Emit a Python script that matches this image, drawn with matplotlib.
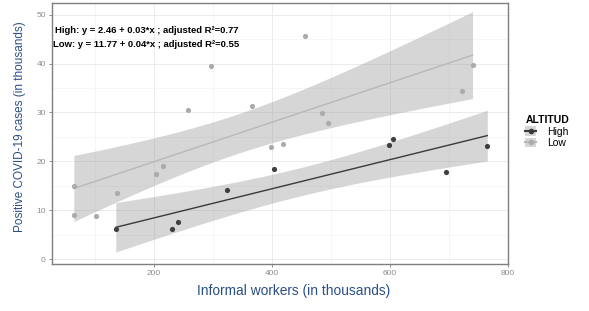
import matplotlib; matplotlib.use('Agg')
import numpy as np
import matplotlib.pyplot as plt
from matplotlib.lines import Line2D
from matplotlib.patches import Patch

# informal workers (thousands) vs positive cases (thousands), by altitude
high_x = [136, 231, 242, 325, 403, 599, 605, 695, 765]
high_y = [6.1, 6.1, 7.5, 14.1, 18.5, 23.4, 24.6, 17.9, 23.2]
low_x = [65, 65, 102, 138, 204, 216, 258, 297, 366, 398, 419, 457, 485, 495, 722, 740]
low_y = [15.0, 9.1, 8.9, 13.6, 17.5, 19.1, 30.6, 39.5, 31.3, 22.9, 23.5, 45.6, 29.9, 27.8, 34.4, 39.8]

labels = ['High', 'Low']
eq_text = ['High: y = 2.46 + 0.03*x ; adjusted R\u00b2=0.77',
           'Low: y = 11.77 + 0.04*x ; adjusted R\u00b2=0.55']
t_crit = {7: 2.365, 14: 2.145}  # 97.5% t quantiles

plt.rcParams['font.family'] = ['Liberation Sans', 'DejaVu Sans']

fig = plt.figure(figsize=(5.89, 3.11), dpi=100)
ax = fig.add_axes([52/589, 1-264/311, (508-52)/589, (264-3)/311])

def fit_band(x, y, color_line, color_pt):
    x = np.array(x, float); y = np.array(y, float)
    n = len(x)
    b, a = np.polyfit(x, y, 1)
    resid = y - (a + b*x)
    s = np.sqrt((resid**2).sum() / (n-2))
    xs = np.linspace(x.min(), x.max(), 80)
    se = s * np.sqrt(1/n + (xs - x.mean())**2 / ((x - x.mean())**2).sum())
    yf = a + b*xs
    t = t_crit[n-2]
    ax.fill_between(xs, yf - t*se, yf + t*se, color='#999999', alpha=0.4, lw=0, zorder=1)
    ax.plot(xs, yf, color=color_line, lw=1, zorder=2)
    ax.scatter(x, y, s=14, color=color_pt, zorder=3, lw=0)

fit_band(high_x, high_y, '#3a3a3a', '#3f3f3f')
fit_band(low_x, low_y, '#b8b8b8', '#ababab')

ax.set_xlim(28, 800)
ax.set_ylim(-1.0, 52.4)
ax.set_xticks([200, 400, 600, 800])
ax.set_xticks([100, 300, 500, 700], minor=True)
ax.set_yticks([0, 10, 20, 30, 40, 50])
ax.set_yticks([5, 15, 25, 35, 45], minor=True)
ax.grid(True, which='major', color='#ebebeb', lw=0.7)
ax.grid(True, which='minor', color='#f3f3f3', lw=0.5)
ax.set_axisbelow(True)
for sp in ax.spines.values():
    sp.set_color('#7f7f7f'); sp.set_linewidth(1.0)
ax.tick_params(which='major', labelsize=6, colors='#7f7f7f', length=2.5, width=0.6, pad=2)
ax.tick_params(which='minor', length=0)
ax.tick_params(axis='both', labelcolor='#8c8c8c')

ax.set_xlabel('Informal workers (in thousands)', fontsize=9.9, color='#2a4f86')
ax.xaxis.set_label_coords((294-52)/456, -(291-264)/261)
ax.xaxis.label.set_va('center')
ax.set_ylabel('Positive COVID-19 cases (in thousands)', fontsize=8.5, color='#2a4f86')
ax.yaxis.set_label_coords(-(52-20)/456, (264-127)/261)
ax.yaxis.label.set_va('center')

ax.text(0.0066, 0.893, eq_text[0], transform=ax.transAxes, fontsize=6.8, fontweight='bold', va='center')
ax.text(0.0015, 0.841, eq_text[1], transform=ax.transAxes, fontsize=6.8, fontweight='bold', va='center')

handles = [(Patch(facecolor='#d6d6d6', lw=0), Line2D([], [], color='#3a3a3a', marker='o', ms=3)),
           (Patch(facecolor='#d6d6d6', lw=0), Line2D([], [], color='#b8b8b8', marker='o', ms=3, mfc='#ababab', mec='#ababab'))]
leg = fig.legend(handles, labels, title='ALTITUD', loc='upper left', bbox_to_anchor=(516/589, 1-106/311),
                 frameon=False, fontsize=7.5, title_fontproperties={'weight': 'bold', 'size': 7.5},
                 handlelength=1.0, handleheight=1.0, labelspacing=0.1, handletextpad=1.1)
leg._legend_box.align = 'left'

plt.savefig('out.png', dpi=100)
